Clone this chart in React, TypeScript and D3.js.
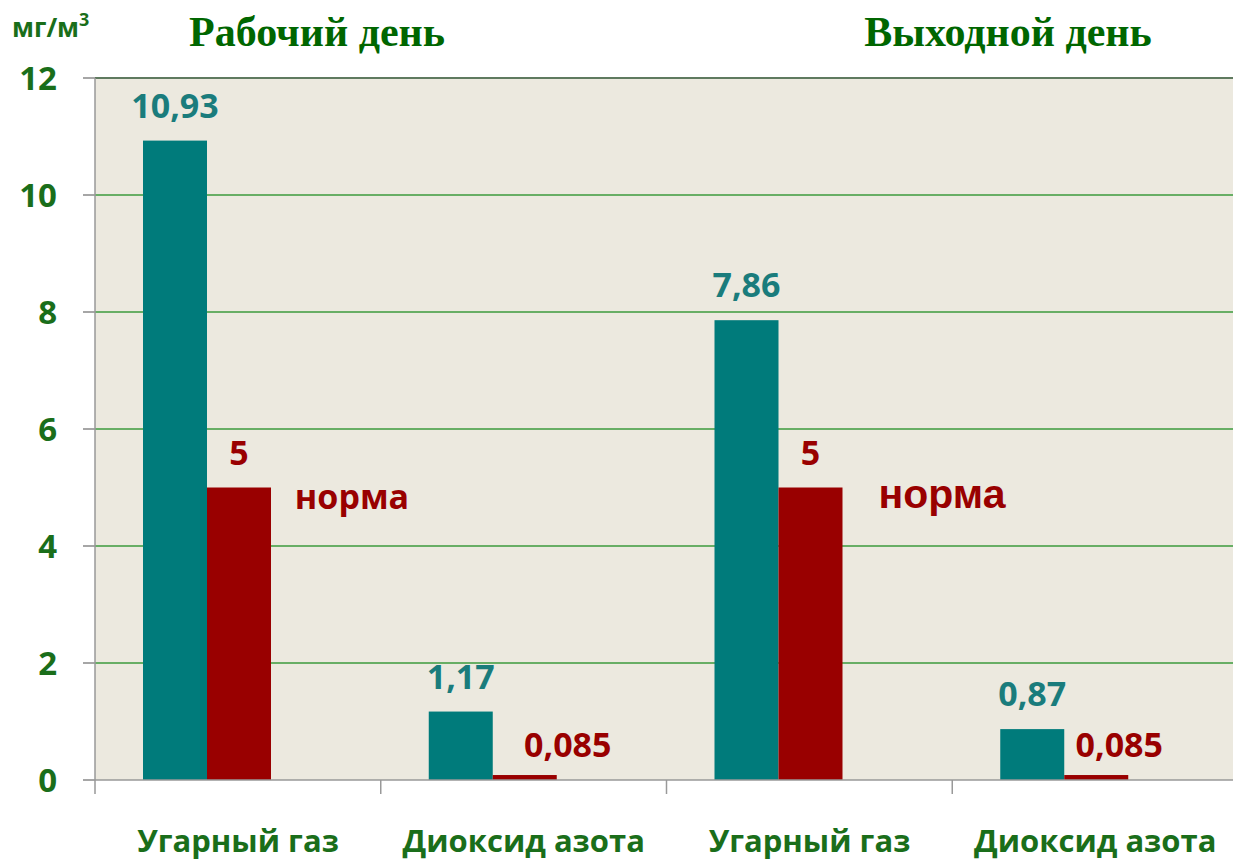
import React from "react";
import * as d3 from "d3";

const categories = ["Угарный газ", "Диоксид азота", "Угарный газ", "Диоксид азота"];
const measured = [10.93, 1.17, 7.86, 0.87];
const normValues = [5, 0.085, 5, 0.085];
const measuredLabels = ["10,93", "1,17", "7,86", "0,87"];
const normLabels = ["5", "0,085", "5", "0,085"];
const yTicks = [0, 2, 4, 6, 8, 10, 12];
const titles = ["Рабочий день", "Выходной день"];

export default function App() {
  const W = 1233, H = 863;
  const left = 95, right = 1233, top = 78, bottom = 780;
  const x = d3.scaleBand<number>().domain(d3.range(categories.length)).range([left, 1238]).paddingInner(0).paddingOuter(0);
  const sub = d3.scaleBand<string>().domain(["m", "n", "e"]).range([48, 240]).padding(0);
  const y = d3.scaleLinear().domain([0, 12]).range([bottom, top]);
  const teal = "#007b7b";
  const red = "#990000";
  const green = "#1a6e1a";
  const sans = "'Open Sans', 'Noto Sans', sans-serif";
  const normDx = [0, 43, 0, 23];
  const labelY = (v: number) => (v < 0.5 ? bottom - 23 : y(v) - 23);
  return (
    <svg width={W} height={H} style={{ position: "absolute", left: 0, top: 0 }}>
      <rect x={0} y={0} width={W} height={H} fill="#ffffff" />
      <rect x={left} y={top} width={right - left} height={bottom - top} fill="#ECE9DF" />
      {yTicks.map((t) => (
        <g key={t}>
          {t > 0 && t < 12 && (
            <line x1={left} x2={right} y1={y(t)} y2={y(t)} stroke="#3c9a3c" strokeWidth={1.3} />
          )}
          <line x1={left - 12} x2={left} y1={y(t)} y2={y(t)} stroke="#888" strokeWidth={1.5} />
          <text x={57} y={y(t)} dy="0.36em" textAnchor="end" fontFamily={sans} fontWeight="bold" fontSize={33} fill={green}>
            {t}
          </text>
        </g>
      ))}
      <line x1={left} x2={right} y1={top} y2={top} stroke="#5f7a5f" strokeWidth={2} />
      <line x1={left} x2={left} y1={top} y2={bottom} stroke="#999" strokeWidth={1.5} />
      {categories.map((c, i) => {
        const x0 = x(i)!;
        const mx = x0 + sub("m")!;
        const nx = x0 + sub("n")!;
        const bw = sub.bandwidth();
        return (
          <g key={i}>
            <rect x={mx} y={y(measured[i])} width={bw} height={bottom - y(measured[i])} fill={teal} />
            <rect x={nx} y={y(normValues[i])} width={bw} height={bottom - y(normValues[i])} fill={red} />
            <text x={mx + bw / 2} y={labelY(measured[i])} textAnchor="middle" fontFamily={sans} fontWeight="bold" fontSize={34} fill="#1a7c7c">
              {measuredLabels[i]}
            </text>
            <text x={nx + bw / 2 + normDx[i]} y={labelY(normValues[i])} textAnchor="middle" fontFamily={sans} fontWeight="bold" fontSize={34} fill={red}>
              {normLabels[i]}
            </text>
            <line x1={x0} x2={x0} y1={bottom} y2={bottom + 14} stroke="#999" strokeWidth={1.5} />
            <text x={x0 + 143} y={852} textAnchor="middle" fontFamily={sans} fontWeight="bold" fontSize={31} fill={green}>
              {c}
            </text>
          </g>
        );
      })}
      <line x1={left} x2={right} y1={bottom} y2={bottom} stroke="#999" strokeWidth={1.5} />
      <text x={352} y={509} textAnchor="middle" fontFamily={sans} fontWeight="bold" fontSize={34} fill={red}>норма</text>
      <text x={942} y={508} textAnchor="middle" fontFamily="'Liberation Sans', Arial, sans-serif" fontWeight="bold" fontSize={41} fill={red}>норма</text>
      <text x={317} y={46} textAnchor="middle" fontFamily="'Liberation Serif', 'Times New Roman', serif" fontWeight="bold" fontSize={42} fill="#006600">{titles[0]}</text>
      <text x={1008} y={46} textAnchor="middle" fontFamily="'Liberation Serif', 'Times New Roman', serif" fontWeight="bold" fontSize={42} fill="#006600">{titles[1]}</text>
      <text x={12} y={37} fontFamily={sans} fontWeight="bold" fontSize={26} fill={green}>
        мг/м<tspan dy={-11} fontSize={18}>3</tspan>
      </text>
    </svg>
  );
}
